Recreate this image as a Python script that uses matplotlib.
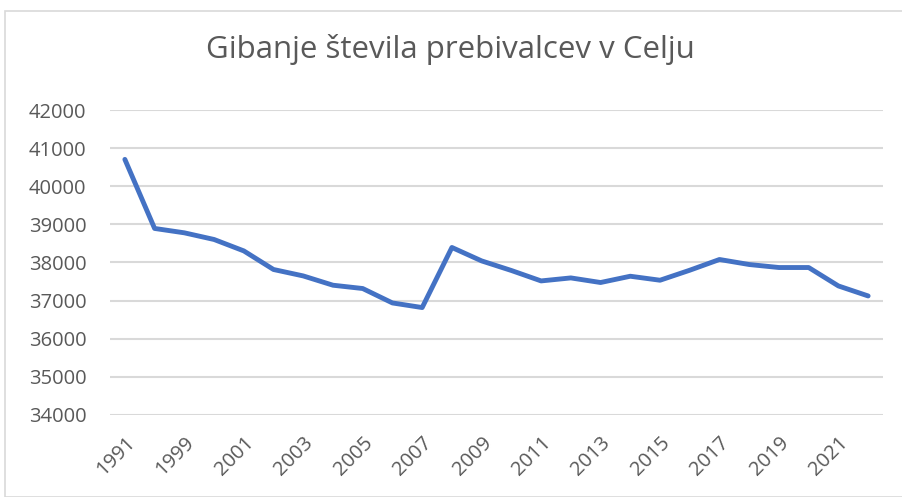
import numpy as np
import matplotlib.pyplot as plt
from matplotlib.patches import Rectangle

# data
years = ['1991', '1998', '1999', '2000', '2001', '2002', '2003', '2004', '2005',
         '2006', '2007', '2008', '2009', '2010', '2011', '2012', '2013', '2014',
         '2015', '2016', '2017', '2018', '2019', '2020', '2021', '2022']
population = [40710, 38895, 38780, 38605, 38305, 37816, 37647, 37403, 37316,
              36937, 36816, 38395, 38042, 37790, 37516, 37595, 37474, 37639,
              37534, 37797, 38079, 37947, 37868, 37868, 37384, 37121]
y_ticks = [34000, 35000, 36000, 37000, 38000, 39000, 40000, 41000, 42000]

text_color = '#595959'
grid_color = '#d9d9d9'
line_color = '#4472C4'

plt.rcParams['font.family'] = ['Open Sans', 'DejaVu Sans']

fig = plt.figure(figsize=(9.03, 4.97), dpi=100)
W, H = 903, 497

# light chart border like the office chart frame
fig.patches.append(Rectangle((5 / W, 0), 1.0, 1 - 11 / H, transform=fig.transFigure,
                             fill=False, edgecolor=grid_color, linewidth=1.2))

ax = fig.add_axes([110 / W, 1 - 414.7 / H, (883 - 110) / W, (414.7 - 110.3) / H])

x = np.arange(len(years))
ax.plot(x, population, color=line_color, linewidth=3.5,
        solid_joinstyle='round', solid_capstyle='round', zorder=3)

ax.set_xlim(-0.5, len(years) - 0.5)
ax.set_ylim(34000, 42000)
ax.set_yticks(y_ticks)
ax.set_yticklabels([str(v) for v in y_ticks])
ax.yaxis.grid(True, color=grid_color, linewidth=1.5)
ax.set_axisbelow(True)

ax.set_xticks(x[::2])
ax.set_xticklabels(years[::2], rotation=45, ha='right', va='top', rotation_mode='anchor')

for s in ax.spines.values():
    s.set_visible(False)
ax.tick_params(axis='both', length=0, colors=text_color, labelsize=14.5)
ax.tick_params(axis='x', pad=13)
ax.tick_params(axis='y', pad=17)

fig.text(450 / W, 1 - 58 / H, 'Gibanje števila prebivalcev v Celju', ha='center', va='baseline',
         fontsize=22.5, color=text_color)

fig.savefig('out.png', dpi=100)
